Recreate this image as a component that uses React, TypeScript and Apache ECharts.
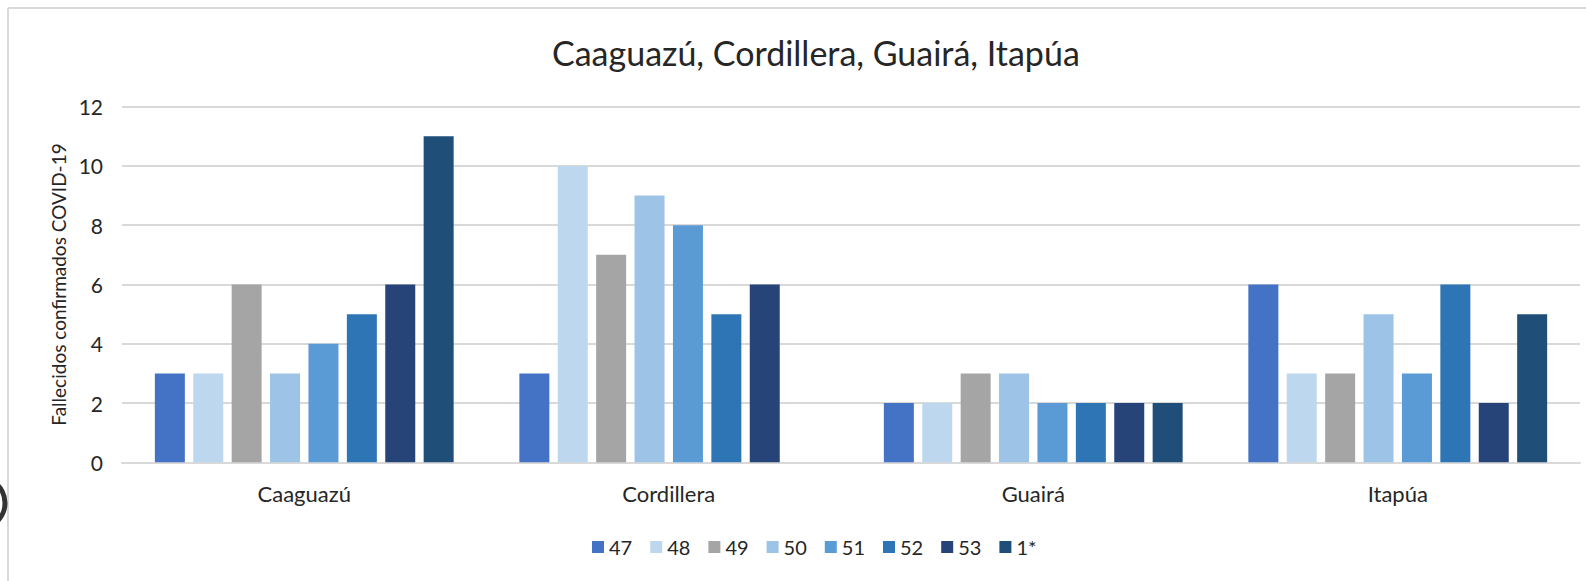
import React, { useEffect, useRef } from "react";
import * as echarts from "echarts";

const TITLE = "Caaguazú, Cordillera, Guairá, Itapúa";
const Y_NAME = "Fallecidos confirmados COVID-19";
const categories = ["Caaguazú", "Cordillera", "Guairá", "Itapúa"];
const seriesNames = ["47", "48", "49", "50", "51", "52", "53", "1*"];
const colors = ["#4472C4", "#BDD7EE", "#A5A5A5", "#9DC3E6", "#5B9BD5", "#2E75B6", "#264478", "#1F4E79"];

const w47 = [3, 3, 2, 6];
const w48 = [3, 10, 2, 3];
const w49 = [6, 7, 3, 3];
const w50 = [3, 9, 3, 5];
const w51 = [4, 8, 2, 3];
const w52 = [5, 5, 2, 6];
const w53 = [6, 6, 2, 2];
const w1s = [11, 0, 2, 5];
const values = [w47, w48, w49, w50, w51, w52, w53, w1s];

const FONT = "Lato, 'Noto Sans', sans-serif";

export default function App() {
  const ref = useRef<HTMLDivElement>(null);
  useEffect(() => {
    if (!ref.current) return;
    const chart = echarts.init(ref.current, undefined, { renderer: "svg" });
    chart.setOption({
      animation: false,
      backgroundColor: "#ffffff",
      textStyle: { fontFamily: FONT },
      title: {
        text: TITLE,
        left: 547,
        top: 30,
        textStyle: { fontFamily: FONT, fontSize: 34, fontWeight: "normal", color: "#262626" },
      },
      legend: {
        data: seriesNames,
        bottom: 19,
        left: 587,
        icon: "rect",
        itemWidth: 12,
        itemHeight: 12,
        itemGap: 18,
        textStyle: { fontFamily: FONT, fontSize: 20, color: "#262626" },
      },
      grid: { left: 122, right: 6, top: 106.7, bottom: 118.7, containLabel: false },
      xAxis: {
        type: "category",
        data: categories,
        axisLine: { show: true, lineStyle: { color: "#d9d9d9", width: 2 } },
        axisTick: { show: false },
        axisLabel: { fontFamily: FONT, fontSize: 22, color: "#262626", margin: 20 },
      },
      yAxis: {
        type: "value",
        min: 0,
        max: 12,
        interval: 2,
        name: Y_NAME,
        nameLocation: "middle",
        nameRotate: 90,
        nameGap: 53,
        nameTextStyle: { fontFamily: FONT, fontSize: 19, color: "#262626" },
        axisLine: { show: false },
        axisTick: { show: false },
        axisLabel: { fontFamily: FONT, fontSize: 21, color: "#262626", margin: 19 },
        splitLine: { lineStyle: { color: "#d9d9d9", width: 2 } },
      },
      series: seriesNames.map((n, i) => ({
        name: n,
        type: "bar",
        data: values[i],
        barWidth: 30,
        barGap: "28%",
        itemStyle: { color: colors[i] },
      })),
      graphic: [
        { type: "line", shape: { x1: 8, y1: 8, x2: 1600, y2: 8 }, style: { stroke: "#d9d9d9", lineWidth: 2 }, silent: true },
        { type: "line", shape: { x1: 8, y1: 8, x2: 8, y2: 600 }, style: { stroke: "#d9d9d9", lineWidth: 2 }, silent: true },
        { type: "circle", shape: { cx: -20, cy: 503, r: 25 }, style: { fill: "none", stroke: "#333333", lineWidth: 5 }, silent: true },
      ],
    });
    return () => chart.dispose();
  }, []);
  return (
    <div
      ref={ref}
      style={{ position: "absolute", left: 0, top: 0, width: 1586, height: 581 }}
    />
  );
}
